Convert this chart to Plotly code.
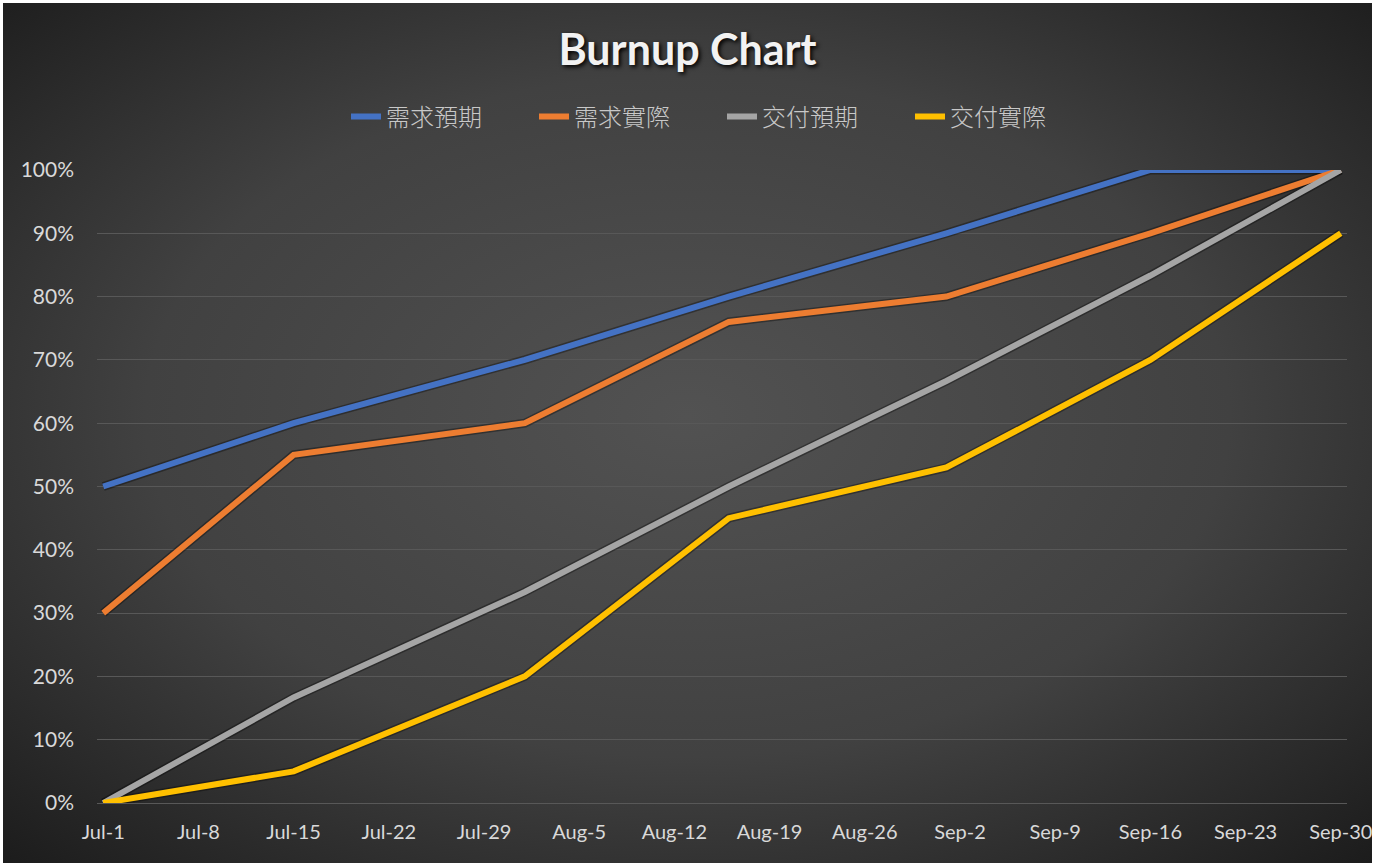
import plotly.graph_objects as go

dates = ["2024-07-01", "2024-07-15", "2024-08-01", "2024-08-16", "2024-09-01", "2024-09-16", "2024-09-30"]
demand_plan = [0.50, 0.60, 0.70, 0.80, 0.90, 1.00, 1.00]
demand_actual = [0.30, 0.55, 0.60, 0.76, 0.80, 0.90, 1.00]
delivery_plan = [0.0, 0.1667, 0.3333, 0.50, 0.6667, 0.8333, 1.00]
delivery_actual = [0.0, 0.05, 0.20, 0.45, 0.53, 0.70, 0.90]

series_names = ["需求預期", "需求實際", "交付預期", "交付實際"]
series_colors = ["#4472C4", "#ED7D31", "#A5A5A5", "#FFC000"]

tick_dates = ["2024-07-01", "2024-07-08", "2024-07-15", "2024-07-22", "2024-07-29", "2024-08-05",
              "2024-08-12", "2024-08-19", "2024-08-26", "2024-09-02", "2024-09-09", "2024-09-16",
              "2024-09-23", "2024-09-30"]
tick_labels = ["Jul-1", "Jul-8", "Jul-15", "Jul-22", "Jul-29", "Aug-5", "Aug-12", "Aug-19",
               "Aug-26", "Sep-2", "Sep-9", "Sep-16", "Sep-23", "Sep-30"]

W, H = 1375, 867
ML, MR, MT, MB = 97, 28, 170, 64
pw, ph = W - ML - MR, H - MT - MB

fig = go.Figure()
all_vals = [demand_plan, demand_actual, delivery_plan, delivery_actual]
# soft shadows beneath lines
for vals in all_vals:
    fig.add_trace(go.Scatter(x=dates, y=vals, mode="lines", showlegend=False, hoverinfo="skip",
                             line=dict(color="rgba(0,0,0,0.35)", width=9), cliponaxis=False))
for name, col, vals in zip(series_names, series_colors, all_vals):
    fig.add_trace(go.Scatter(x=dates, y=vals, name=name, mode="lines",
                             line=dict(color=col, width=6), cliponaxis=False))

svg = ("data:image/svg+xml;utf8,"
       "<svg xmlns='http://www.w3.org/2000/svg' width='1369' height='860' preserveAspectRatio='none'>"
       "<defs><radialGradient id='g' cx='50%' cy='48%' r='72%'>"
       "<stop offset='0' stop-color='%23525252'/><stop offset='0.55' stop-color='%23414141'/>"
       "<stop offset='1' stop-color='%231c1c1c'/></radialGradient></defs>"
       "<rect width='1369' height='860' fill='url(%23g)'/></svg>")

fig.add_layout_image(dict(source=svg, xref="paper", yref="paper",
                          x=(3 - ML) / pw, y=(MT + ph - 3) / ph,
                          sizex=(W - 6) / pw, sizey=(H - 7) / ph,
                          xanchor="left", yanchor="top", sizing="stretch", layer="below"))

fig.update_layout(
    width=W, height=H, autosize=False,
    margin=dict(l=ML, r=MR, t=MT, b=MB, autoexpand=False),
    paper_bgcolor="#ffffff",
    plot_bgcolor="rgba(0,0,0,0)",
    title=dict(text="Burnup Chart", x=0.5, xanchor="center", y=1 - 50 / H, yanchor="middle",
               font=dict(family="Lato, Open Sans, sans-serif", size=43, color="#f2f2f2",
                         weight="bold", shadow="2px 2px 4px #000000")),
    legend=dict(orientation="h", x=0.5, xanchor="center", y=(MT + ph - 117) / ph, yanchor="middle",
                font=dict(family="Noto Sans CJK TC, sans-serif", size=24, color="#c8c8c8", weight=300),
                bgcolor="rgba(0,0,0,0)", traceorder="normal",
                entrywidth=143, entrywidthmode="pixels"),
    font=dict(family="Lato, sans-serif", color="#d9d9d9"),
    showlegend=True,
)
fig.update_xaxes(type="date", range=["2024-06-30 13:00", "2024-09-30 11:00"],
                 tickvals=tick_dates, ticktext=tick_labels, showgrid=False, automargin=False,
                 showline=False, zeroline=False, ticks="", ticklabeloverflow="allow",
                 tickfont=dict(size=20, color="#d9d9d9"), ticklabelstandoff=15)
fig.update_yaxes(range=[0, 1], dtick=0.1, tickformat=".0%", showgrid=True, automargin=False,
                 gridcolor="#585858", gridwidth=1, zeroline=True, zerolinecolor="#585858",
                 zerolinewidth=1, showline=False, ticks="",
                 tickfont=dict(size=21, color="#d9d9d9"), ticklabelstandoff=22)

fig.write_html("out.html", config={"displayModeBar": False},
               post_script="document.body.style.margin='0';document.body.style.overflow='hidden';")
